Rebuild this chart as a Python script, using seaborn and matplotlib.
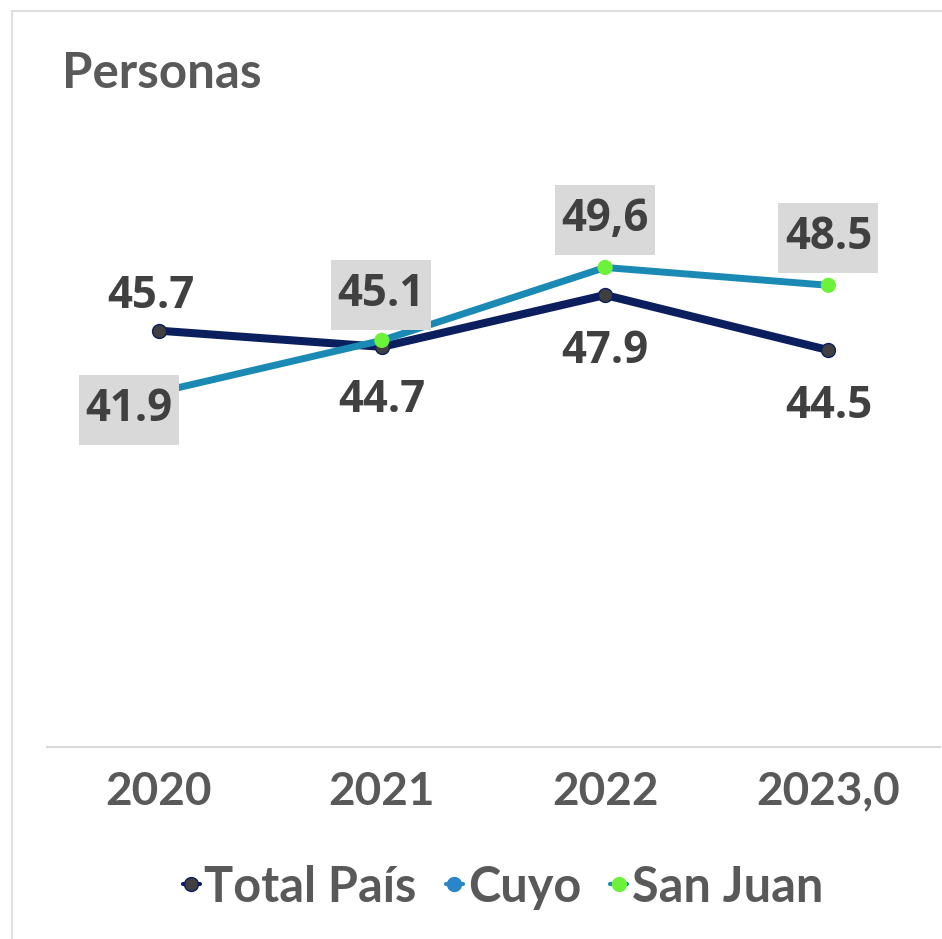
import pandas as pd
import numpy as np
import matplotlib.pyplot as plt
import seaborn as sns
from matplotlib.lines import Line2D
from matplotlib.patches import Rectangle
from matplotlib.offsetbox import AnnotationBbox, DrawingArea

# ***** data ***** #
years = ["2020", "2021", "2022", "2023,0"]
total_pais = [45.7, 44.7, 47.9, 44.5]
cuyo = [41.9, 45.1, 49.6, 48.5]
san_juan = [41.9, 45.1, 49.6, 48.5]
total_labels = ["45.7", "44.7", "47.9", "44.5"]
san_juan_labels = ["41.9", "45.1", "49,6", "48.5"]

# label offsets in pixels (dx, dy) from each point
total_offsets = [(-8, 34), (0, -54), (0, -56), (0, -56)]
sj_offsets = [(-30, -18), (-1, 45), (0, 47), (0, 47)]

navy = "#0B1F5E"
blue = "#1A8AB4"
green = "#6DF23A"
dark = "#404040"
grey_txt = "#595959"
box_grey = "#D9D9D9"

sns.set_theme(style="white")
plt.rcParams["font.family"] = ["Lato", "DejaVu Sans"]

fig = plt.figure(figsize=(9.42, 9.39), dpi=100)
ax = fig.add_axes([47 / 942, 1 - 747 / 939, 893 / 942, 648 / 939])

sns.lineplot(x=years, y=total_pais, ax=ax, color=navy, lw=5.8, sort=False,
             marker="o", markersize=10, markerfacecolor=dark,
             markeredgecolor=navy, markeredgewidth=1, zorder=2)
sns.lineplot(x=years, y=cuyo, ax=ax, color=blue, lw=5, sort=False, zorder=3)
sns.scatterplot(x=years, y=san_juan, ax=ax, color=green, s=120,
                edgecolor="none", zorder=4)

for i, (lab, off) in enumerate(zip(total_labels, total_offsets)):
    ax.annotate(lab, (i, total_pais[i]), xytext=off, textcoords="offset pixels",
                ha="center", va="center", fontsize=31.5, fontweight="bold",
                family="Open Sans", color=dark, zorder=7)

# grey label boxes (100 x 70 px) for San Juan
for i, off in enumerate(sj_offsets):
    da = DrawingArea(72, 50.4, 0, 0)
    da.add_artist(Rectangle((0, 0), 72, 50.4, fc=box_grey, ec="none"))
    ab = AnnotationBbox(da, (i, san_juan[i]), xybox=off, boxcoords="offset pixels",
                        frameon=False, pad=0, box_alignment=(0.5, 0.5))
    ab.set_zorder(5)
    ax.add_artist(ab)

for i, (lab, off) in enumerate(zip(san_juan_labels, sj_offsets)):
    ax.annotate(lab, (i, san_juan[i]), xytext=(off[0], off[1] + 1),
                textcoords="offset pixels", ha="center", va="center",
                fontsize=31.5, fontweight="bold", family="Open Sans",
                color=dark, zorder=6)

ax.set_xlim(-0.5, 3.5)
ax.set_ylim(20, 60)
ax.set_yticks([])
ax.set_xlabel("")
ax.set_ylabel("")
ax.tick_params(axis="x", length=0, pad=17, labelsize=33, labelcolor=grey_txt)
for t in ax.get_xticklabels():
    t.set_fontweight("bold")
for side in ["top", "right", "left"]:
    ax.spines[side].set_visible(False)
ax.spines["bottom"].set_color(box_grey)
ax.spines["bottom"].set_linewidth(1.5)

# chart frame (top and left edges)
fig.add_artist(Line2D([12 / 942, 1], [1 - 11 / 939, 1 - 11 / 939], color=box_grey, lw=1.2))
fig.add_artist(Line2D([12 / 942, 12 / 942], [1 - 11 / 939, 0], color=box_grey, lw=1.2))

fig.text(62 / 942, 1 - 74 / 939, "Personas", ha="left", va="center",
         fontsize=35.5, fontweight="bold", color=grey_txt)

handles = [
    Line2D([0], [0], color=navy, lw=3, marker="o", markersize=10,
           markerfacecolor=dark, markeredgecolor=navy),
    Line2D([0], [0], color="#2A86C8", lw=3, marker="o", markersize=10,
           markerfacecolor="#2A86C8", markeredgecolor="#2A86C8"),
    Line2D([0], [0], color=blue, lw=3, marker="o", markersize=10,
           markerfacecolor=green, markeredgecolor=green),
]
leg = fig.legend(handles, ["Total País", "Cuyo", "San Juan"], loc="center",
                 bbox_to_anchor=(503 / 942, 1 - 887 / 939), ncol=3, frameon=False,
                 handlelength=0.35, handletextpad=0.1, columnspacing=0.6,
                 prop=dict(family="Lato", weight="bold", size=35))
for t in leg.get_texts():
    t.set_color(grey_txt)

fig.savefig("out.png", dpi=100)
